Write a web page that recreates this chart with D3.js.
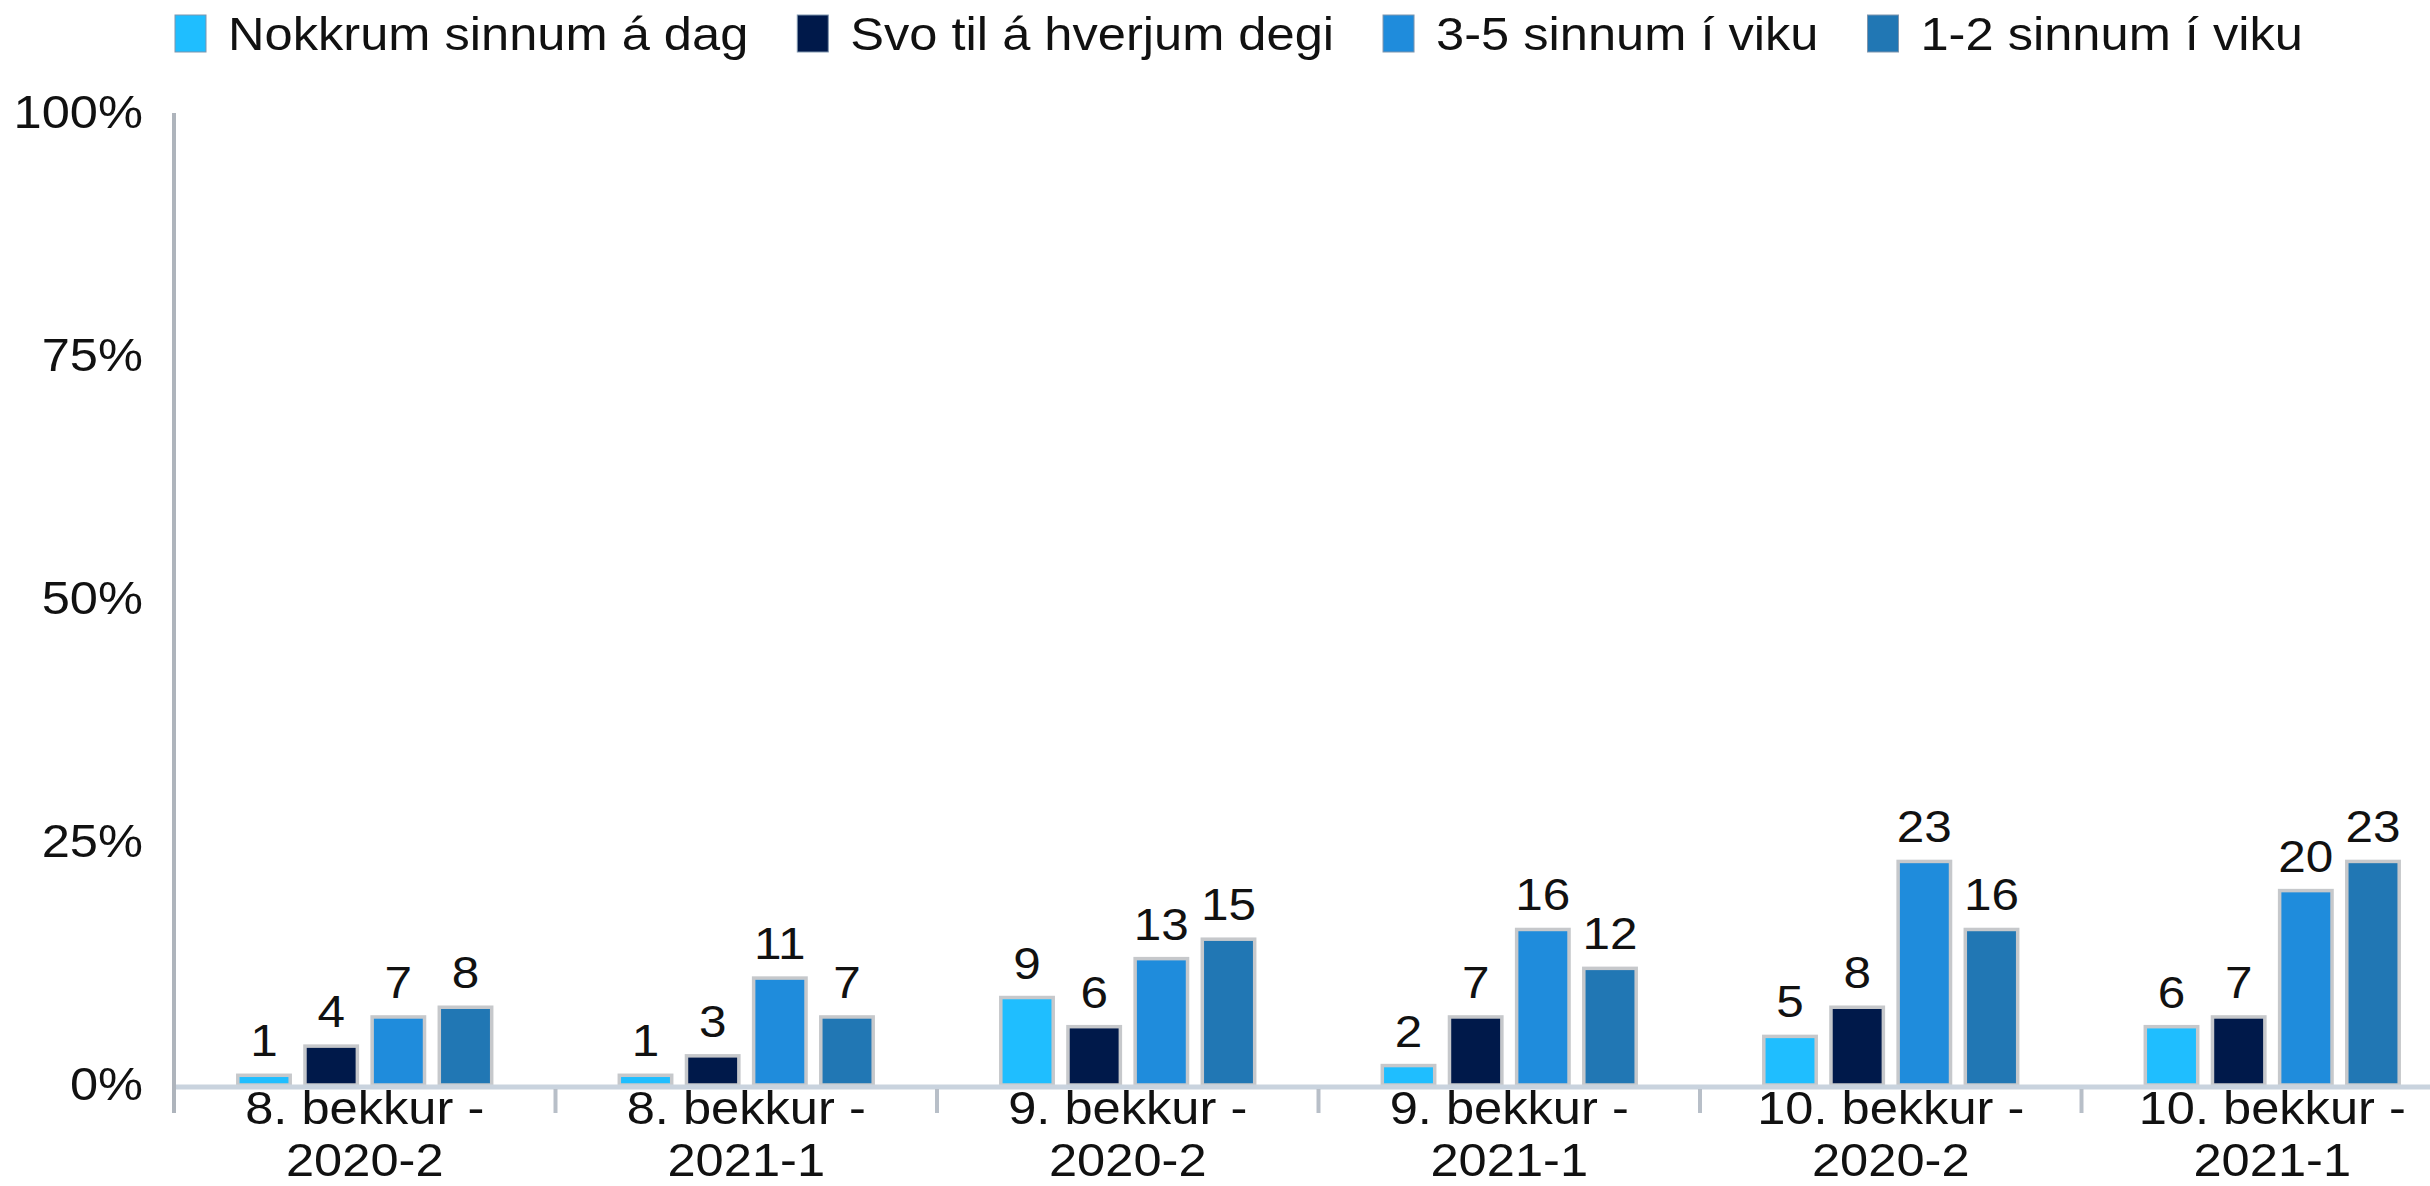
<!DOCTYPE html>
<html>
<head>
<meta charset="utf-8">
<script src="https://cdn.jsdelivr.net/npm/d3@7"></script>
<style>
  body { margin: 0; background: #fff; }
  text { font-family: "Liberation Sans", Arial, sans-serif; fill: #111; }
</style>
</head>
<body>
<div id="chart"></div>
<script>
// data
const categories = [
  "8. bekkur -\n2020-2",
  "8. bekkur -\n2021-1",
  "9. bekkur -\n2020-2",
  "9. bekkur -\n2021-1",
  "10. bekkur -\n2020-2",
  "10. bekkur -\n2021-1",
];
const seriesNames = [
  "Nokkrum sinnum á dag",
  "Svo til á hverjum degi",
  "3-5 sinnum í viku",
  "1-2 sinnum í viku",
];
const nokkrum = [1, 1, 9, 2, 5, 6];
const svoTil = [4, 3, 6, 7, 8, 7];
const tri5 = [7, 11, 13, 16, 23, 20];
const ein2 = [8, 7, 15, 12, 16, 23];
const yTicks = [0, 25, 50, 75, 100];

const colors = ["#1fbeff", "#00194a", "#1f8cdc", "#2177b4"];

const seriesValues = [nokkrum, svoTil, tri5, ein2];
const data = categories.map((c, i) => ({
  cat: c,
  vals: seriesNames.map((s, j) => ({ key: s, value: seriesValues[j][i] })),
}));

const W = 2430, H = 1186;
const plotLeft = 174, plotBase = 1085, plotTop = 113, tickEnd = 1113;
const stretch = 1.1;

// widen text a bit, the source font runs wider than Liberation Sans
function widen(sel) {
  sel.each(function () {
    const len = this.getComputedTextLength();
    d3.select(this).attr("textLength", len * stretch).attr("lengthAdjust", "spacingAndGlyphs");
  });
}

const svg = d3.select("#chart").append("svg")
  .attr("width", W)
  .attr("height", H);

const x0 = d3.scaleBand()
  .domain(categories)
  .range([plotLeft, plotLeft + 6 * 381.5])
  .padding(0);

const x1 = d3.scaleBand()
  .domain(seriesNames)
  .range([0, x0.bandwidth()])
  .paddingInner(0.22)
  .paddingOuter(0.95);

const color = d3.scaleOrdinal().domain(seriesNames).range(colors);

const y = d3.scaleLinear().domain([0, 100]).range([plotBase, plotTop]);

// y axis labels
const yAxis = svg.append("g")
  .attr("transform", `translate(${plotLeft},0)`)
  .call(d3.axisLeft(y).tickValues(yTicks).tickSize(0).tickPadding(31).tickFormat((d) => d + "%"));
yAxis.select(".domain").remove();
yAxis.selectAll("text")
  .attr("font-size", 46)
  .attr("fill", "#111")
  .call(widen);

// bars
const groups = svg.selectAll("g.grp")
  .data(data)
  .enter()
  .append("g")
  .attr("class", "grp")
  .attr("transform", (d) => `translate(${x0(d.cat)},0)`);

groups.selectAll("rect")
  .data((d) => d.vals)
  .enter()
  .append("rect")
  .attr("x", (d) => x1(d.key))
  .attr("y", (d) => y(d.value))
  .attr("width", x1.bandwidth())
  .attr("height", (d) => plotBase - y(d.value))
  .attr("fill", (d) => color(d.key))
  .attr("stroke", "#c6c8cb")
  .attr("stroke-width", 3.5);

groups.selectAll("text.val")
  .data((d) => d.vals)
  .enter()
  .append("text")
  .attr("class", "val")
  .attr("x", (d) => x1(d.key) + x1.bandwidth() / 2)
  .attr("y", (d) => y(d.value) - 19)
  .attr("text-anchor", "middle")
  .attr("font-size", 45)
  .text((d) => d.value)
  .call(widen);

// x axis line
svg.append("line")
  .attr("x1", plotLeft)
  .attr("x2", W)
  .attr("y1", plotBase + 2)
  .attr("y2", plotBase + 2)
  .attr("stroke", "#c9d3de")
  .attr("stroke-width", 5);

// y axis line
svg.append("line")
  .attr("x1", plotLeft)
  .attr("x2", plotLeft)
  .attr("y1", plotTop)
  .attr("y2", tickEnd)
  .attr("stroke", "#aeb4bc")
  .attr("stroke-width", 4);

// category boundary ticks
svg.selectAll("line.tick")
  .data(categories.slice(1))
  .enter()
  .append("line")
  .attr("class", "tick")
  .attr("x1", (d) => x0(d))
  .attr("x2", (d) => x0(d))
  .attr("y1", plotBase + 4)
  .attr("y2", tickEnd)
  .attr("stroke", "#b8bfc8")
  .attr("stroke-width", 4);

// category labels, two lines each
svg.selectAll("g.cat")
  .data(categories)
  .enter()
  .append("g")
  .attr("class", "cat")
  .each(function (c) {
    const g = d3.select(this);
    c.split("\n").forEach((line, i) => {
      g.append("text")
        .attr("x", x0(c) + x0.bandwidth() / 2)
        .attr("y", 1124 + i * 52)
        .attr("text-anchor", "middle")
        .attr("font-size", 46)
        .text(line)
        .call(widen);
    });
  });

// legend
const legend = svg.append("g").attr("class", "legend");
let lx = 175;
seriesNames.forEach((s) => {
  legend.append("rect")
    .attr("x", lx)
    .attr("y", 15)
    .attr("width", 31)
    .attr("height", 37)
    .attr("fill", color(s))
    .attr("stroke", "#7f95ad")
    .attr("stroke-width", 1);
  const t = legend.append("text")
    .attr("x", lx + 53)
    .attr("y", 50)
    .attr("font-size", 46)
    .text(s);
  const len = t.node().getComputedTextLength();
  t.attr("textLength", len * stretch).attr("lengthAdjust", "spacingAndGlyphs");
  lx = lx + 53 + len * stretch + 49;
});
</script>
</body>
</html>
